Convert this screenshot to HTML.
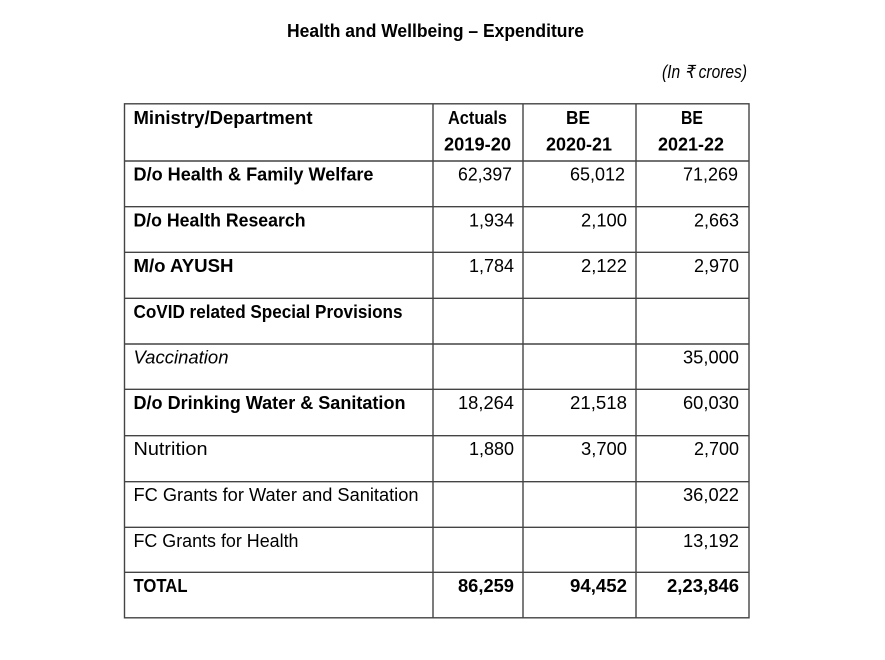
<!DOCTYPE html>
<html>
<head>
<meta charset="utf-8">
<style>
html,body{margin:0;padding:0;background:#fff;}
svg{display:block;}
.b{font-family:"Liberation Sans",sans-serif;font-weight:bold;font-size:18px;fill:#000;}
.r{font-family:"Liberation Sans",sans-serif;font-size:18px;fill:#000;}
.i{font-family:"Liberation Sans",sans-serif;font-style:italic;font-size:18px;fill:#000;}
</style>
</head>
<body>
<svg width="885" height="660" viewBox="0 0 885 660" xmlns="http://www.w3.org/2000/svg">
<rect width="885" height="660" fill="#fff"/>
<text class="b" x="287" y="37" font-size="17.5" textLength="297" lengthAdjust="spacingAndGlyphs">Health and Wellbeing – Expenditure</text>
<text class="i" x="662" y="78" font-size="16" textLength="85" lengthAdjust="spacingAndGlyphs">(In  ₹ crores)</text>

<g stroke="#444" stroke-width="1.4" fill="none">
<rect x="124.5" y="103.8" width="624.5" height="514"/>
<line x1="433" y1="103.8" x2="433" y2="617.8"/>
<line x1="523" y1="103.8" x2="523" y2="617.8"/>
<line x1="636" y1="103.8" x2="636" y2="617.8"/>
<line x1="124.5" y1="161" x2="749" y2="161"/>
<line x1="124.5" y1="206.7" x2="749" y2="206.7"/>
<line x1="124.5" y1="252.3" x2="749" y2="252.3"/>
<line x1="124.5" y1="298.3" x2="749" y2="298.3"/>
<line x1="124.5" y1="344" x2="749" y2="344"/>
<line x1="124.5" y1="389.3" x2="749" y2="389.3"/>
<line x1="124.5" y1="435.7" x2="749" y2="435.7"/>
<line x1="124.5" y1="481.7" x2="749" y2="481.7"/>
<line x1="124.5" y1="527.3" x2="749" y2="527.3"/>
<line x1="124.5" y1="572.3" x2="749" y2="572.3"/>
</g>

<!-- header -->
<text class="b" x="133.5" y="124" textLength="179" lengthAdjust="spacingAndGlyphs">Ministry/Department</text>
<text class="b" x="448" y="124" textLength="59" lengthAdjust="spacingAndGlyphs">Actuals</text>
<text class="b" x="444" y="150.5" textLength="67" lengthAdjust="spacingAndGlyphs">2019-20</text>
<text class="b" x="566" y="124" textLength="24" lengthAdjust="spacingAndGlyphs">BE</text>
<text class="b" x="546" y="150.5" textLength="66" lengthAdjust="spacingAndGlyphs">2020-21</text>
<text class="b" x="681" y="124" textLength="22" lengthAdjust="spacingAndGlyphs">BE</text>
<text class="b" x="658" y="150.5" textLength="66" lengthAdjust="spacingAndGlyphs">2021-22</text>

<!-- rows -->
<text class="b" x="133.5" y="180.5" textLength="240" lengthAdjust="spacingAndGlyphs">D/o Health &amp; Family Welfare</text>
<text class="r" x="458" y="180.5" textLength="54" lengthAdjust="spacingAndGlyphs">62,397</text>
<text class="r" x="570" y="180.5" textLength="55" lengthAdjust="spacingAndGlyphs">65,012</text>
<text class="r" x="683" y="180.5" textLength="55" lengthAdjust="spacingAndGlyphs">71,269</text>

<text class="b" x="133.5" y="226.5" textLength="172" lengthAdjust="spacingAndGlyphs">D/o Health Research</text>
<text class="r" x="469" y="226.5" textLength="45" lengthAdjust="spacingAndGlyphs">1,934</text>
<text class="r" x="581" y="226.5" textLength="46" lengthAdjust="spacingAndGlyphs">2,100</text>
<text class="r" x="694" y="226.5" textLength="45" lengthAdjust="spacingAndGlyphs">2,663</text>

<text class="b" x="133.5" y="272" textLength="100" lengthAdjust="spacingAndGlyphs">M/o AYUSH</text>
<text class="r" x="469" y="272" textLength="45" lengthAdjust="spacingAndGlyphs">1,784</text>
<text class="r" x="581" y="272" textLength="46" lengthAdjust="spacingAndGlyphs">2,122</text>
<text class="r" x="694" y="272" textLength="45" lengthAdjust="spacingAndGlyphs">2,970</text>

<text class="b" x="133.5" y="318" textLength="269" lengthAdjust="spacingAndGlyphs">CoVID related Special Provisions</text>

<text class="i" x="133.5" y="363.5" textLength="95" lengthAdjust="spacingAndGlyphs">Vaccination</text>
<text class="r" x="683" y="363.5" textLength="56" lengthAdjust="spacingAndGlyphs">35,000</text>

<text class="b" x="133.5" y="409" textLength="272" lengthAdjust="spacingAndGlyphs">D/o Drinking Water &amp; Sanitation</text>
<text class="r" x="458" y="409" textLength="56" lengthAdjust="spacingAndGlyphs">18,264</text>
<text class="r" x="570" y="409" textLength="57" lengthAdjust="spacingAndGlyphs">21,518</text>
<text class="r" x="683" y="409" textLength="56" lengthAdjust="spacingAndGlyphs">60,030</text>

<text class="r" x="133.5" y="455" textLength="74" lengthAdjust="spacingAndGlyphs">Nutrition</text>
<text class="r" x="469" y="455" textLength="45" lengthAdjust="spacingAndGlyphs">1,880</text>
<text class="r" x="581" y="455" textLength="46" lengthAdjust="spacingAndGlyphs">3,700</text>
<text class="r" x="694" y="455" textLength="45" lengthAdjust="spacingAndGlyphs">2,700</text>

<text class="r" x="133.5" y="501" textLength="285" lengthAdjust="spacingAndGlyphs">FC Grants for Water and Sanitation</text>
<text class="r" x="683" y="501" textLength="56" lengthAdjust="spacingAndGlyphs">36,022</text>

<text class="r" x="133.5" y="547" textLength="165" lengthAdjust="spacingAndGlyphs">FC Grants for Health</text>
<text class="r" x="683" y="547" textLength="56" lengthAdjust="spacingAndGlyphs">13,192</text>

<text class="b" x="133.5" y="592" textLength="54" lengthAdjust="spacingAndGlyphs">TOTAL</text>
<text class="b" x="458" y="592" textLength="56" lengthAdjust="spacingAndGlyphs">86,259</text>
<text class="b" x="570" y="592" textLength="57" lengthAdjust="spacingAndGlyphs">94,452</text>
<text class="b" x="667" y="592" textLength="72" lengthAdjust="spacingAndGlyphs">2,23,846</text>
</svg>
</body>
</html>
